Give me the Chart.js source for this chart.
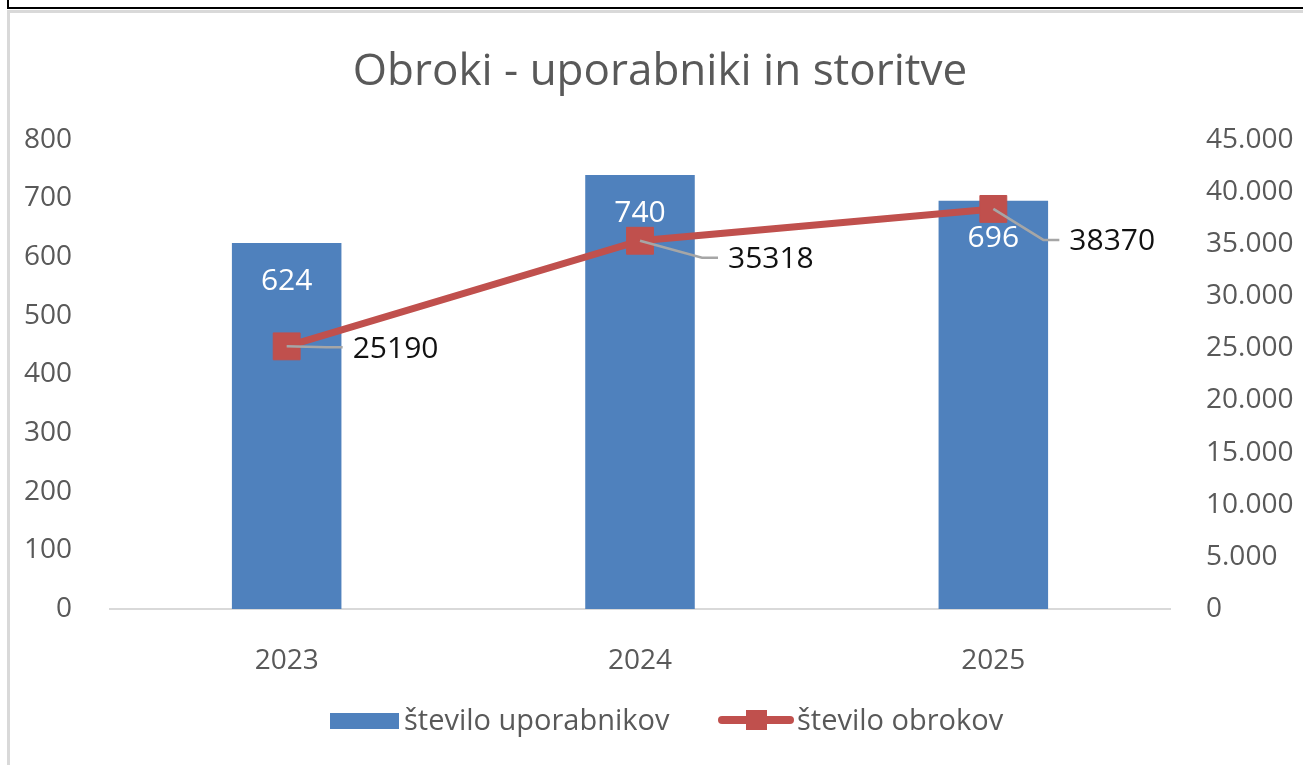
<!DOCTYPE html>
<html>
<head>
<meta charset="utf-8">
<title>Obroki - uporabniki in storitve</title>
<script src="https://cdn.jsdelivr.net/npm/chart.js@4.4.1/dist/chart.umd.min.js"></script>
<style>
    body { margin: 0; background: #fff; }
    .frame { position: absolute; left: 0; top: 0; width: 1303px; height: 765px; overflow: hidden; }
    .topbox { position: absolute; left: 7px; top: -10px; width: 1310px; height: 15px; border: 2px solid #000; }
    .panel { position: absolute; left: 7px; top: 10px; width: 1310px; height: 770px;
             border-left: 3px solid #d9d9d9; border-top: 3px solid #d9d9d9; }
    canvas { position: absolute; left: 0; top: 0; }
</style>
</head>
<body>
<div class="frame">
    <div class="topbox"></div>
    <div class="panel"></div>
    <canvas id="myChart" width="1303" height="765"></canvas>
</div>

<script>
    // chart data
    const years = ['2023', '2024', '2025'];
    const users = [624, 740, 696];          // število uporabnikov (left axis)
    const meals = [25190, 35318, 38370];    // število obrokov (right axis)
    const leftAxis = { max: 800, step: 100 };
    const rightAxis = { max: 45000, step: 5000 };

    const BLUE = '#4F81BD';
    const RED = '#C0504D';
    const GREY_TEXT = '#595959';
    const FONT = '"Open Sans", sans-serif';

    // 45000 -> 45.000
    function dotThousands(v) {
        return String(v).replace(/\B(?=(\d{3})+(?!\d))/g, '.');
    }

    // value labels; line labels sit to the right with a grey leader line
    const valueLabels = {
        id: 'valueLabels',
        afterDatasetsDraw(chart, args, opts) {
            const ctx = chart.ctx;
            ctx.save();
            ctx.font = '30px ' + FONT;
            ctx.textBaseline = 'middle';

            chart.getDatasetMeta(0).data.forEach((bar, i) => {
                ctx.fillStyle = '#fff';
                ctx.textAlign = 'center';
                ctx.fillText(String(users[i]), bar.x, bar.y + 38);
            });

            chart.getDatasetMeta(1).data.forEach((pt, i) => {
                const dx = opts.offsets[i][0];
                const dy = opts.offsets[i][1];
                ctx.strokeStyle = '#a6a6a6';
                ctx.lineWidth = 2.5;
                ctx.beginPath();
                ctx.moveTo(pt.x, pt.y);
                ctx.lineTo(pt.x + dx - 26, pt.y + dy);
                ctx.lineTo(pt.x + dx - 10, pt.y + dy);
                ctx.stroke();
                ctx.fillStyle = '#111';
                ctx.textAlign = 'left';
                ctx.fillText(String(meals[i]), pt.x + dx, pt.y + dy + 2);
            });
            ctx.restore();
        }
    };

    // bottom legend: box for the bars, line with square marker for the line
    const bottomLegend = {
        id: 'bottomLegend',
        afterDraw(chart) {
            const ctx = chart.ctx;
            const ds = chart.data.datasets;
            ctx.save();
            ctx.font = '29px ' + FONT;
            ctx.textBaseline = 'alphabetic';
            ctx.textAlign = 'left';

            ctx.fillStyle = BLUE;
            ctx.fillRect(330, 713, 69, 16);
            ctx.fillStyle = GREY_TEXT;
            ctx.fillText(ds[0].label, 404, 730);

            ctx.strokeStyle = RED;
            ctx.lineWidth = 8;
            ctx.lineCap = 'round';
            ctx.beginPath();
            ctx.moveTo(722, 720);
            ctx.lineTo(790, 720);
            ctx.stroke();
            ctx.fillStyle = RED;
            ctx.fillRect(746, 710, 21, 20);
            ctx.fillStyle = GREY_TEXT;
            ctx.fillText(ds[1].label, 797, 730);
            ctx.restore();
        }
    };

    const ctx = document.getElementById('myChart').getContext('2d');
    const chart = new Chart(ctx, {
        data: {
            labels: years,
            datasets: [{
                type: 'bar',
                label: 'število uporabnikov',
                data: users,
                backgroundColor: BLUE,
                yAxisID: 'y',
                order: 1,
                barPercentage: 0.31,
                categoryPercentage: 1
            }, {
                type: 'line',
                label: 'število obrokov',
                data: meals,
                borderColor: RED,
                backgroundColor: RED,
                borderWidth: 7,
                pointStyle: 'rect',
                pointRadius: 19,
                pointBorderWidth: 1,
                pointBorderColor: RED,
                pointBackgroundColor: RED,
                tension: 0,
                yAxisID: 'y1',
                order: 0
            }]
        },
        options: {
            responsive: false,
            animation: false,
            layout: {
                padding: { left: 20, right: 3, top: 0, bottom: 96 }
            },
            plugins: {
                legend: { display: false },
                tooltip: { enabled: false },
                title: {
                    display: true,
                    text: 'Obroki - uporabniki in storitve',
                    color: GREY_TEXT,
                    font: { family: FONT, size: 44, weight: 'normal' },
                    padding: { top: 46, bottom: 41 }
                },
                valueLabels: {
                    offsets: [[66, 1], [88, 17], [76, 31]]
                }
            },
            scales: {
                x: {
                    grid: { display: false },
                    border: { display: true, color: '#d9d9d9', width: 2 },
                    ticks: { color: GREY_TEXT, font: { family: FONT, size: 28 }, padding: 27 },
                    afterFit(scale) { scale.height = 60; }
                },
                y: {
                    position: 'left',
                    min: 0,
                    max: leftAxis.max,
                    grid: { display: false },
                    border: { display: false },
                    ticks: {
                        stepSize: leftAxis.step,
                        color: GREY_TEXT,
                        font: { family: FONT, size: 28 },
                        padding: 30
                    },
                    afterFit(scale) { scale.width = 90; }
                },
                y1: {
                    position: 'right',
                    min: 0,
                    max: rightAxis.max,
                    grid: { display: false },
                    border: { display: false },
                    ticks: {
                        stepSize: rightAxis.step,
                        color: GREY_TEXT,
                        font: { family: FONT, size: 28 },
                        padding: 28,
                        callback: (v) => dotThousands(v)
                    },
                    afterFit(scale) { scale.width = 130; }
                }
            }
        },
        plugins: [valueLabels, bottomLegend]
    });
</script>
</body>
</html>
